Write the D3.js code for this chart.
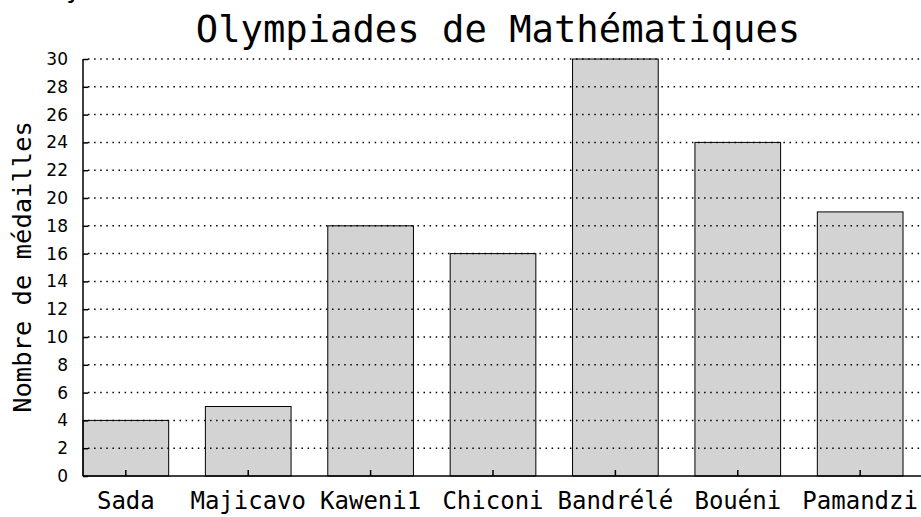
<!DOCTYPE html>
<html><head><meta charset="utf-8">
<script src="https://cdn.jsdelivr.net/npm/d3@7"></script>
<style>body{margin:0;background:#fff;overflow:hidden}</style>
</head><body>
<script>
const categories = ["Sada","Majicavo","Kaweni1","Chiconi","Bandrélé","Bouéni","Pamandzi"];
const values = [4,5,18,16,30,24,19];
const yTicks = [0,2,4,6,8,10,12,14,16,18,20,22,24,26,28,30];
const title = "Olympiades de Mathématiques";
const yLabel = "Nombre de médailles";

const W=921,H=517;
const svg=d3.select("body").append("svg").attr("width",W).attr("height",H);
const mono="'DejaVu Sans Mono', monospace";
const sans="'DejaVu Sans', sans-serif";
const x=d3.scaleBand().domain(categories).range([83,903]).paddingInner(0.3).paddingOuter(0);
const y=d3.scaleLinear().domain([0,30]).range([476,59]);

// cut-off glyph at top
svg.append("text").attr("x",66).attr("y",-3).attr("font-family",mono).attr("font-size",26).text("y");

// bars
svg.selectAll("rect.bar").data(values).join("rect").attr("class","bar")
 .attr("x",(d,i)=>x(categories[i])).attr("y",d=>y(d))
 .attr("width",x.bandwidth()).attr("height",d=>y(0)-y(d))
 .attr("fill","#d3d3d3").attr("stroke","#000").attr("stroke-width",1);

// grid
svg.selectAll("line.grid").data(yTicks.filter(d=>d>0)).join("line").attr("class","grid")
 .attr("x1",88).attr("x2",W).attr("y1",d=>y(d)).attr("y2",d=>y(d))
 .attr("stroke","#000").attr("stroke-width",1.5).attr("stroke-dasharray","1.5,4.6");

// y axis
const ya=svg.append("g").attr("transform","translate(83,0)")
 .call(d3.axisLeft(y).tickValues(yTicks).tickSize(-5).tickPadding(15));
ya.select(".domain").attr("stroke-width",1.5).attr("d",`M0,${y(0)}V${y(30)}`);
ya.selectAll(".tick line").attr("stroke-width",1.5);
ya.selectAll("text").attr("font-family",sans).attr("font-size",17).attr("fill","#000");

// x axis
const xa=svg.append("g").attr("transform",`translate(0,${y(0)})`)
 .call(d3.axisBottom(x).tickSize(-6).tickPadding(16));
xa.select(".domain").attr("stroke-width",1.5).attr("d",`M83,0H${W}`);
xa.selectAll(".tick line").attr("stroke-width",1.5);
xa.selectAll("text").attr("font-family",mono).attr("font-size",24).attr("fill","#000");

// title
svg.append("text").attr("x",498).attr("y",42).attr("text-anchor","middle")
 .attr("font-family",mono).attr("font-size",37.2).text(title);

// y label
svg.append("text").attr("transform","translate(31,267) rotate(-90)").attr("text-anchor","middle")
 .attr("font-family",mono).attr("font-size",25.5).text(yLabel);
</script>
</body></html>
